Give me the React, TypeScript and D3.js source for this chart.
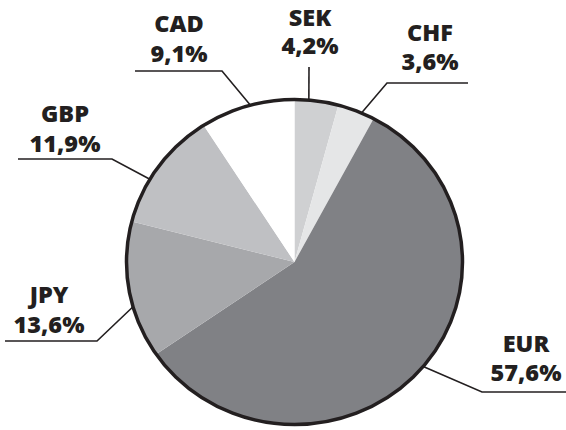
import React from "react";
import * as d3 from "d3";

const currencies = ["SEK", "CHF", "EUR", "JPY", "GBP", "CAD"];
const shares = [4.2, 3.6, 57.6, 13.6, 11.9, 9.1];
const colors = ["#cfd0d2", "#e5e6e7", "#808185", "#a7a8ab", "#bfc0c3", "#ffffff"];

// label layout: text centre x, name baseline y, value baseline y,
// leader horizontal: far x, elbow x, y; rim angle (deg, clockwise from top)
const labelX = [310, 430, 526, 49, 65, 179];
const nameY = [26, 41, 352, 303, 122, 32];
const valueY = [54, 70, 381, 333, 152, 62];
const leaderFarX = [309, 468, 566, 5, 18, 135];
const leaderElbowX = [309, 387, 482, 97, 112, 222];
const leaderY = [67, 83, 392, 341, 159, 71];
const leaderAngle = [4.9, 23.5, 130, 254, 300.6, 344.8];

const W = 566;
const H = 430;
const cx = 294.5;
const cy = 262;
const rx = 168;
const ry = 162.5;

export default function App() {
  const pie = d3.pie<number>().sort(null).value((d) => d);
  const arcs = pie(shares);
  const arc = d3.arc<d3.PieArcDatum<number>>().innerRadius(0).outerRadius(rx);
  const fmt = (v: number) => v.toFixed(1).replace(".", ",") + "%";
  const rim = (deg: number) => {
    const a = (deg * Math.PI) / 180;
    return [cx + rx * Math.sin(a), cy - ry * Math.cos(a)];
  };
  return (
    <svg
      width={W}
      height={H}
      style={{ position: "absolute", left: 0, top: 0, background: "#fff" }}
      fontFamily="'Open Sans', sans-serif"
    >
      <g transform={`translate(${cx},${cy}) scale(1,${ry / rx})`}>
        {arcs.map((a, i) => (
          <path key={i} d={arc(a) || ""} fill={colors[i]} />
        ))}
      </g>
      <ellipse cx={cx} cy={cy} rx={rx} ry={ry} fill="none" stroke="#231f20" strokeWidth={3.5} />
      {currencies.map((c, i) => {
        const [px, py] = rim(leaderAngle[i]);
        const pts = `${leaderFarX[i]},${leaderY[i]} ${leaderElbowX[i]},${leaderY[i]} ${px},${py}`;
        return (
          <g key={c}>
            <polyline points={pts} fill="none" stroke="#231f20" strokeWidth={1.6} />
            <text textAnchor="middle" fontWeight={800} fontSize={23.5} fill="#231f20">
              <tspan x={labelX[i]} y={nameY[i]}>{c}</tspan>
              <tspan x={labelX[i]} y={valueY[i]}>{fmt(shares[i])}</tspan>
            </text>
          </g>
        );
      })}
    </svg>
  );
}
